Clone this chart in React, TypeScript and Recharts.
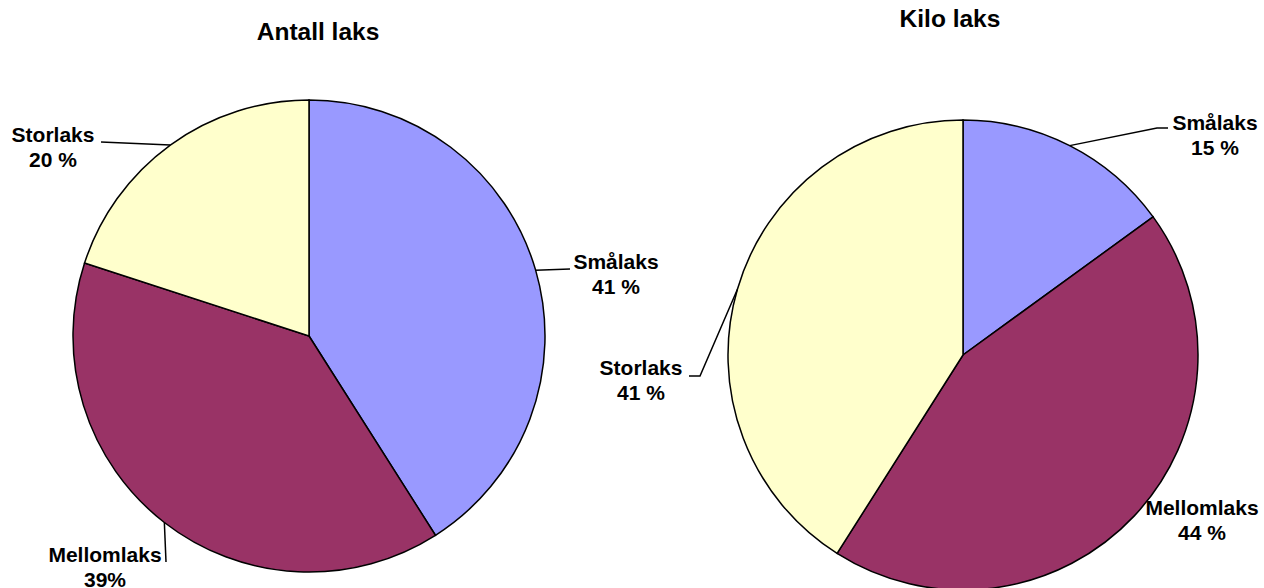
import { PieChart, Pie, Cell } from 'recharts'

const categories = ['Smålaks', 'Mellomlaks', 'Storlaks']
const antallValues = [41, 39, 20]
const kiloValues = [15, 44, 41]
const antallLabels = ['41 %', '39%', '20 %']
const kiloLabels = ['15 %', '44 %', '41 %']

const COLORS = ['#9999FF', '#993366', '#FFFFCC']
const FONT = '"Liberation Sans", Arial, sans-serif'

type Spot = { tx: number; ty: number; pts: [number, number][] }

// label placement (baseline of first line) and leader line bends
const ANTALL_SPOTS: Spot[] = [
  { tx: 616, ty: 269, pts: [[570, 269]] },
  { tx: 105, ty: 562, pts: [[166, 562]] },
  { tx: 53, ty: 142, pts: [[101, 142]] },
]
const KILO_SPOTS: Spot[] = [
  { tx: 1215, ty: 130, pts: [[1157, 128], [1168, 128]] },
  { tx: 1202, ty: 515, pts: [] },
  { tx: 641, ty: 375, pts: [[700, 376], [689, 376]] },
]

const RAD = Math.PI / 180

function makeLabel(spots: Spot[], texts: string[]) {
  return (props: any) => {
    const { cx, cy, midAngle, outerRadius, index } = props
    const s = spots[index]
    const ex = cx + outerRadius * Math.cos(-midAngle * RAD)
    const ey = cy + outerRadius * Math.sin(-midAngle * RAD)
    const line = s.pts.length
      ? `M${ex},${ey}` + s.pts.map(([x, y]) => `L${x},${y}`).join('')
      : ''
    return (
      <g>
        {line && <path d={line} stroke="#000" strokeWidth={1.5} fill="none" />}
        <text
          x={s.tx}
          y={s.ty}
          textAnchor="middle"
          fontFamily={FONT}
          fontWeight="bold"
          fontSize={21}
          fill="#000"
        >
          <tspan x={s.tx}>{categories[index]}</tspan>
          <tspan x={s.tx} dy={25}>{texts[index]}</tspan>
        </text>
      </g>
    )
  }
}

const antallData = categories.map((name, i) => ({ name, value: antallValues[i] }))
const kiloData = categories.map((name, i) => ({ name, value: kiloValues[i] }))

export default function App() {
  return (
    <div style={{ position: 'absolute', left: 0, top: 0, background: '#fff' }}>
      <PieChart width={1264} height={588} margin={{ top: 0, right: 0, bottom: 0, left: 0 }}>
        <text x={318} y={40} textAnchor="middle" fontFamily={FONT} fontWeight="bold" fontSize={24.5}>
          Antall laks
        </text>
        <text x={950} y={27} textAnchor="middle" fontFamily={FONT} fontWeight="bold" fontSize={24.5}>
          Kilo laks
        </text>
        <Pie
          data={antallData}
          dataKey="value"
          cx={309}
          cy={336}
          outerRadius={236}
          startAngle={90}
          endAngle={-270}
          stroke="#000"
          strokeWidth={1.5}
          labelLine={false}
          label={makeLabel(ANTALL_SPOTS, antallLabels)}
          isAnimationActive={false}
        >
          {antallData.map((d, i) => (
            <Cell key={d.name} fill={COLORS[i]} />
          ))}
        </Pie>
        <Pie
          data={kiloData}
          dataKey="value"
          cx={963}
          cy={355}
          outerRadius={235}
          startAngle={90}
          endAngle={-270}
          stroke="#000"
          strokeWidth={1.5}
          labelLine={false}
          label={makeLabel(KILO_SPOTS, kiloLabels)}
          isAnimationActive={false}
        >
          {kiloData.map((d, i) => (
            <Cell key={d.name} fill={COLORS[i]} />
          ))}
        </Pie>
      </PieChart>
    </div>
  )
}
